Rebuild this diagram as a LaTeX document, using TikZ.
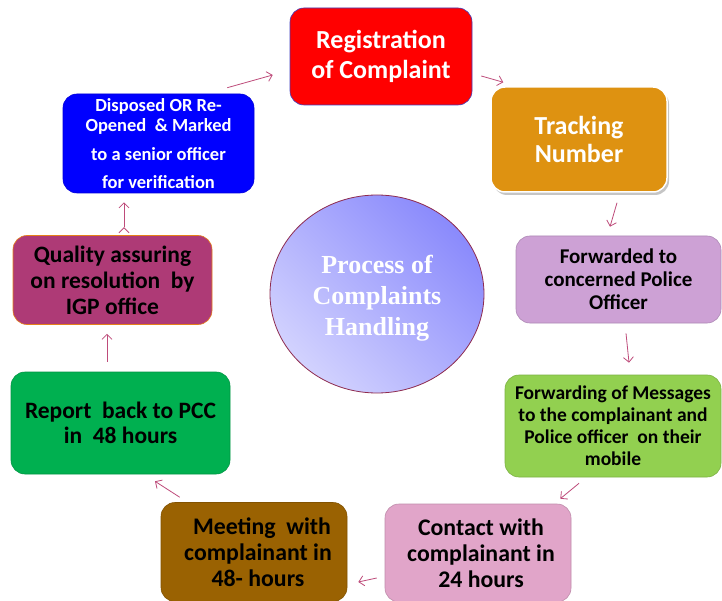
\documentclass[tikz,border=0pt]{standalone}
\usepackage{fontspec}
\setmainfont{Carlito}
\newfontfamily\circfont{Liberation Serif}
\usetikzlibrary{arrows.meta,shadows,shapes.geometric}

\definecolor{regred}{HTML}{FF0000}
\definecolor{trkorange}{HTML}{DE9211}
\definecolor{fwdlilac}{HTML}{CDA1D5}
\definecolor{msggreen}{HTML}{92D050}
\definecolor{conpink}{HTML}{E1A5C9}
\definecolor{meetbrown}{HTML}{9A6202}
\definecolor{repgreen}{HTML}{00B050}
\definecolor{qualplum}{HTML}{AE3A76}
\definecolor{disblue}{HTML}{0000FF}
\definecolor{arrowpink}{HTML}{BE4B7A}
\definecolor{circlight}{HTML}{D2D2FE}
\definecolor{circdark}{HTML}{8A8AFC}
\definecolor{circrim}{HTML}{8E2B4F}

\tikzset{
  stepbox/.style={rectangle, rounded corners=14pt, align=center, inner sep=2pt,
    font=\bfseries, fill=#1, draw=#1!85!black, line width=0.6pt},
  flow/.style={draw=arrowpink, line width=0.8pt, -{Straight Barb[length=5pt,width=10pt]}}
}

\begin{document}
\begin{tikzpicture}[x=1pt,y=-1pt]
  \useasboundingbox[fill=white] (0,0) rectangle (722,601);

  % the cycle of steps
  \node[stepbox=regred, draw=blue!50!gray, text=white, minimum width=182pt, minimum height=97pt,
        font=\bfseries\fontsize{26}{30}\selectfont] (reg) at (381,56.5) {Registration\\of Complaint};
  \node[stepbox=trkorange, draw=white, line width=1.5pt, text=white,
        drop shadow={shadow xshift=2pt, shadow yshift=-3pt, opacity=0.45},
        minimum width=176pt, minimum height=105pt,
        font=\bfseries\fontsize{26}{28}\selectfont] (trk) at (579,139.5) {Tracking\\Number};
  \node[stepbox=fwdlilac, minimum width=205pt, minimum height=87pt,
        font=\bfseries\fontsize{21}{23}\selectfont] (fwd) at (618.5,279.5) {Forwarded to\\concerned Police\\Officer};
  \node[stepbox=msggreen, minimum width=216pt, minimum height=102pt,
        font=\bfseries\fontsize{19.5}{22}\selectfont] (msg) at (613,426) {Forwarding of Messages\\to the complainant and\\Police officer~ on their\\mobile};
  \node[stepbox=conpink, minimum width=186pt, minimum height=98pt,
        font=\bfseries\fontsize{23.8}{26}\selectfont] (con) at (478,553) {\hspace*{6pt}Contact with\\\hspace*{6pt}complainant in\\\hspace*{6pt}24 hours};
  \node[stepbox=meetbrown, minimum width=186pt, minimum height=99pt,
        font=\bfseries\fontsize{23.8}{26}\selectfont] (meet) at (254,552) {\hspace*{16pt}Meeting~ with\\\hspace*{8pt}complainant in\\\hspace*{8pt}48- hours};
  \node[stepbox=repgreen, minimum width=219pt, minimum height=102pt,
        font=\bfseries\fontsize{23.5}{25}\selectfont] (rep) at (120.5,423) {Report~ back to PCC\\in~ 48 hours};
  \node[stepbox=qualplum, draw=orange!60!brown, minimum width=199pt, minimum height=89pt,
        font=\bfseries\fontsize{23.5}{26}\selectfont] (qual) at (112.5,280) {Quality assuring\\on resolution~ by\\IGP office};
  \node[stepbox=disblue, text=white, minimum width=191pt, minimum height=99pt,
        font=\bfseries\fontsize{18.5}{20}\selectfont] (dis) at (158.5,143.5) {Disposed OR Re-\\Opened~ \& Marked\\[9pt]to a senior officer\\[8pt]for verification};

  % centre
  \node[ellipse, minimum width=214pt, minimum height=198pt, draw=circrim, line width=0.8pt,
        shading=axis, left color=circlight, right color=circdark, shading angle=135,
        text=white, align=center, font=\circfont\bfseries\fontsize{26}{31}\selectfont] (hub) at (377,294)
        {\rule{0pt}{27pt}Process of\\Complaints\\Handling};

  % connectors
  \path[flow]
    ([shift={(-27,-6)}]dis.north east) edge ([shift={(-17,18.5)}]reg.west)
    ([shift={(9,19.5)}]reg.east) edge ([shift={(13,-4)}]trk.north west)
    ([shift={(38,10)}]trk.south) edge ([shift={(-8.5,-9)}]fwd.north)
    ([shift={(7.5,10)}]fwd.south) edge ([shift={(16,-12)}]msg.north)
    ([shift={(-34,6)}]msg.south) edge ([shift={(-11,-5)}]con.north east)
    ([shift={(-8,25)}]con.west) edge ([shift={(11,30)}]meet.east)
    ([shift={(19,-5)}]meet.north west) edge ([shift={(34.5,7)}]rep.south)
    ([shift={(-13.5,-10)}]rep.north) edge ([shift={(-5.5,9)}]qual.south)
    ([shift={(11.5,-8)}]qual.north) edge ([shift={(-34.5,9)}]dis.south);
\end{tikzpicture}
\end{document}
